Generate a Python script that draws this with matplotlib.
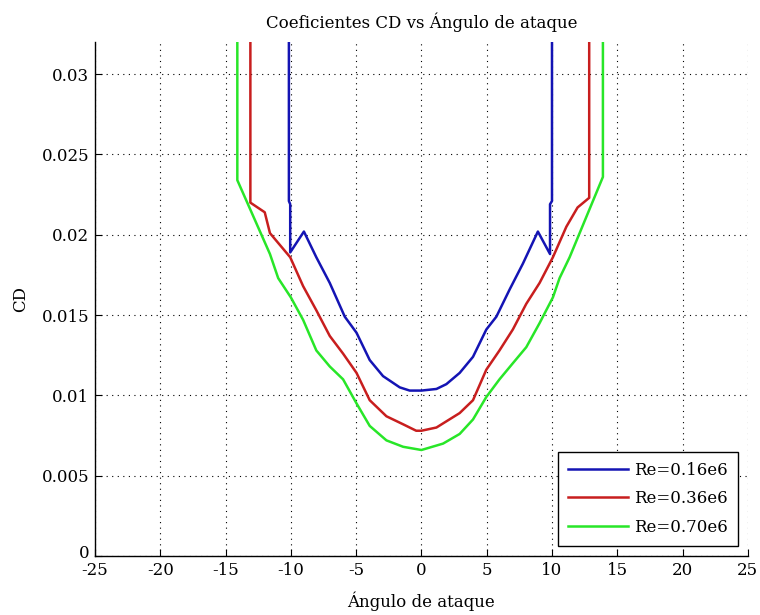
"""
Coeficientes CD vs Ángulo de ataque
"""
import matplotlib
matplotlib.use('Agg')
import matplotlib.pyplot as plt
import matplotlib.transforms as mtransforms

plt.rcParams['font.family'] = ['DejaVu Serif']

# Re = 0.16e6
alfa_016 = [-10.15, -10.15, -10.05, -10.05, -9.0, -8.05, -7.02, -5.87, -4.97, -3.96,
            -2.94, -1.66, -0.9, 0.0, 1.15, 1.91, 2.93, 3.95, 4.97, 5.74, 6.76,
            7.77, 8.92, 9.85, 9.85, 10.0, 10.0]
cd_016 = [0.034, 0.0221, 0.0219, 0.0189, 0.0202, 0.0186, 0.0170, 0.0149, 0.0139, 0.0122,
          0.0112, 0.0105, 0.0103, 0.0103, 0.0104, 0.0107, 0.0114, 0.0124, 0.0141, 0.0149,
          0.0166, 0.0182, 0.0202, 0.0188, 0.0219, 0.0221, 0.034]

# Re = 0.36e6
alfa_036 = [-13.1, -13.1, -12.0, -11.6, -10.05, -9.06, -8.05, -7.02, -6.0, -4.97, -3.96,
            -2.68, -1.4, -0.4, 0.0, 1.15, 2.93, 3.95, 4.97, 5.98, 7.0, 8.03, 9.05,
            10.07, 11.1, 11.96, 12.85, 12.85]
cd_036 = [0.034, 0.0220, 0.0214, 0.0201, 0.0186, 0.0168, 0.0153, 0.0137, 0.0126, 0.0114,
          0.0097, 0.0087, 0.0082, 0.0078, 0.0078, 0.0080, 0.0089, 0.0097, 0.0116, 0.0128,
          0.0141, 0.0157, 0.0170, 0.0186, 0.0205, 0.0217, 0.0223, 0.034]

# Re = 0.70e6
alfa_070 = [-14.1, -14.1, -11.6, -10.97, -10.0, -9.06, -8.05, -7.02, -6.0, -4.97, -3.96,
            -2.68, -1.4, 0.0, 1.66, 2.93, 3.95, 4.97, 5.98, 7.0, 8.03, 9.05, 10.07,
            10.58, 11.35, 13.9, 13.9]
cd_070 = [0.034, 0.0234, 0.0188, 0.0173, 0.0161, 0.0147, 0.0128, 0.0118, 0.0110, 0.0095,
          0.0081, 0.0072, 0.0068, 0.0066, 0.0070, 0.0076, 0.0085, 0.0099, 0.0110, 0.0120,
          0.0130, 0.0145, 0.0161, 0.0173, 0.0186, 0.0236, 0.034]

series = [
    (alfa_016, cd_016, '#1414b4', 'Re=0.16e6'),
    (alfa_036, cd_036, '#c81e1e', 'Re=0.36e6'),
    (alfa_070, cd_070, '#28e628', 'Re=0.70e6'),
]

x_ticks = list(range(-25, 30, 5))
y_ticks = [0, 0.005, 0.01, 0.015, 0.02, 0.025, 0.03]
y_tick_labels = ['0', '0.005', '0.01', '0.015', '0.02', '0.025', '0.03']

fig = plt.figure(figsize=(7.6, 6.15), dpi=100)
ax = fig.add_axes([0.125, 0.0959, 0.859, 0.8358])

for alfa, cd, cor, nome in series:
    ax.plot(alfa, cd, color=cor, linewidth=1.8, label=nome)

ax.set_xlim(-25, 25)
ax.set_ylim(0, 0.032)
ax.set_xticks(x_ticks)
ax.set_xticklabels([str(t) for t in x_ticks])
ax.set_yticks(y_ticks)
ax.set_yticklabels(y_tick_labels)

# grade pontilhada estilo MATLAB
ax.grid(True, color='black', linestyle=(0, (1, 4)), linewidth=0.8)
for lado in ['top', 'right']:
    ax.spines[lado].set_visible(False)
ax.spines['left'].set_linewidth(1.0)
ax.spines['bottom'].set_linewidth(1.0)
ax.tick_params(direction='in', length=5, labelsize=12, pad=4)

# "0" do eixo y um pouco acima, como no MATLAB
rotulo_zero = ax.get_yticklabels()[0]
rotulo_zero.set_transform(rotulo_zero.get_transform() +
                          mtransforms.ScaledTranslation(0, 5 / 100, fig.dpi_scale_trans))

ax.set_title('Coeficientes CD vs Ángulo de ataque', fontsize=12, pad=10)
ax.set_xlabel('Ángulo de ataque', fontsize=12, labelpad=9)
ax.set_ylabel('CD', fontsize=12, labelpad=9)

leg = ax.legend(loc='lower right', bbox_to_anchor=(0.985, 0.0195), borderaxespad=0,
                fontsize=12, handlelength=3.6, fancybox=False, framealpha=1,
                edgecolor='black', labelspacing=0.7, handletextpad=0.35, borderpad=0.6)
leg.get_frame().set_linewidth(1.0)

plt.savefig('out.png', dpi=100)
plt.close(fig)
